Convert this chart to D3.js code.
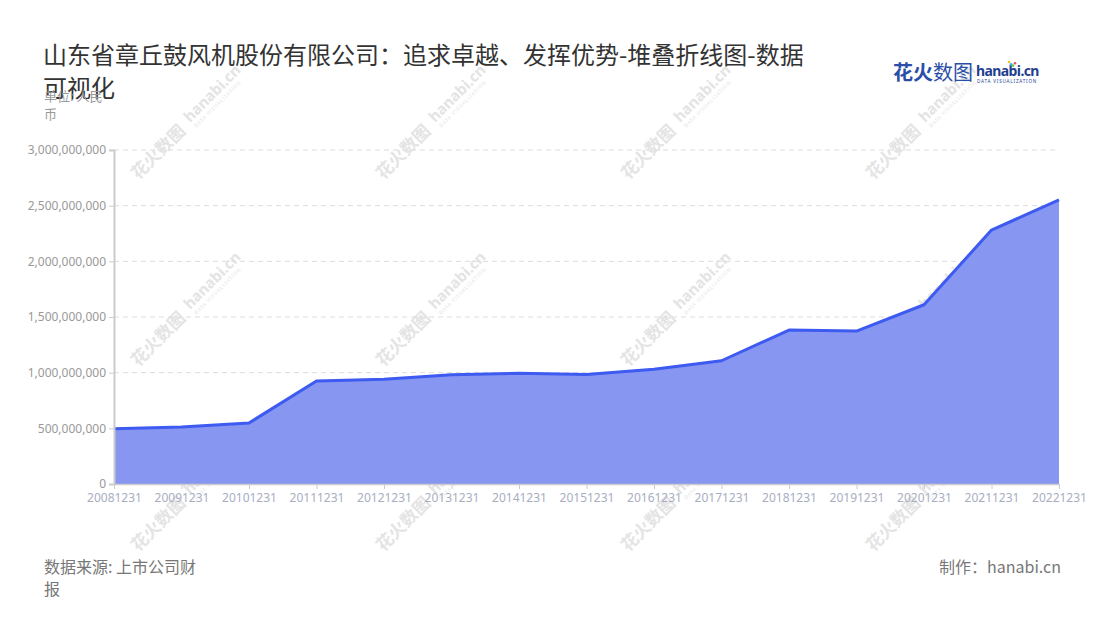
<!DOCTYPE html>
<html><head><meta charset="utf-8">
<script src="https://cdn.jsdelivr.net/npm/d3@7/dist/d3.min.js"></script>
<style>
html,body{margin:0;padding:0;background:#fff;}
svg{display:block;font-family:"Noto Sans","Noto Sans CJK SC",sans-serif;}
</style></head>
<body><svg id="c" width="1100" height="620"></svg>
<script>
const categories = ["20081231","20091231","20101231","20111231","20121231","20131231","20141231","20151231","20161231","20171231","20181231","20191231","20201231","20211231","20221231"];
const values = [497000000,512000000,548000000,925000000,940000000,982000000,995000000,983000000,1030000000,1107000000,1383000000,1374000000,1610000000,2281000000,2551000000];
const yTicks = [0,500000000,1000000000,1500000000,2000000000,2500000000,3000000000];
const titleLines = ["山东省章丘鼓风机股份有限公司：追求卓越、发挥优势-堆叠折线图-数据","可视化"];
const unitLines = ["单位: 人民","币"];
const sourceLines = ["数据来源: 上市公司财","报"];
const credit = "制作：hanabi.cn";

const svg = d3.select("#c");
const M = {l:114, r:1059, t:150, b:484};
const x = d3.scalePoint().domain(categories).range([M.l, M.r]);
const y = d3.scaleLinear().domain([0,3000000000]).range([M.b, M.t]);
const cjk = '"Noto Sans CJK SC","Noto Sans",sans-serif';

// watermarks
const wm = svg.append("g");
const wmCols = [185,430,675,920], wmRows = [125,312,497];
const wmc = "#e4e4e4";
wmRows.forEach(cy => wmCols.forEach(cx => {
  const g = wm.append("g").attr("transform",`translate(${cx},${cy}) rotate(-45)`);
  g.append("text").attr("x",-72).attr("y",6).attr("font-family",cjk).attr("font-weight","bold")
    .attr("font-size",17).attr("fill",wmc).text("花火数图");
  g.append("text").attr("x",5).attr("y",2).attr("font-family",'"Noto Sans",sans-serif').attr("font-weight","bold")
    .attr("font-size",15).attr("fill",wmc).text("hanabi.cn");
  g.append("text").attr("x",6).attr("y",10).attr("font-family",'"Noto Sans",sans-serif')
    .attr("font-size",5).attr("fill",wmc).attr("letter-spacing",0.8).text("DATA VISUALIZATION");
}));

// grid
svg.append("g").selectAll("line").data(yTicks.slice(1)).join("line")
  .attr("x1",M.l).attr("x2",M.r).attr("y1",d=>y(d)).attr("y2",d=>y(d))
  .attr("stroke","#dcdcdc").attr("stroke-dasharray","5,4");

// area + line
const area = d3.area().x((d,i)=>x(categories[i])).y0(y(0)).y1(d=>y(d));
const line = d3.line().x((d,i)=>x(categories[i])).y(d=>y(d));
svg.append("path").datum(values).attr("d",area).attr("fill","#8796f0");
svg.append("path").datum(values).attr("d",line).attr("fill","none").attr("stroke","#3d5af1").attr("stroke-width",3).attr("stroke-linejoin","round");

// y axis
const yAxis = d3.axisLeft(y).tickValues(yTicks).tickSize(5).tickPadding(3).tickFormat(d3.format(","));
const ya = svg.append("g").attr("transform",`translate(${M.l},0)`).call(yAxis);
ya.select(".domain").attr("stroke","#cccccc").attr("stroke-width",2);
ya.selectAll(".tick line").attr("stroke","#cccccc");
ya.selectAll(".tick text").attr("fill","#999999").attr("font-size",12).attr("font-family",'"Noto Sans",sans-serif');

// x axis
const xAxis = d3.axisBottom(x).tickSize(5).tickPadding(4).tickSizeOuter(0);
const xa = svg.append("g").attr("transform",`translate(0,${M.b})`).call(xAxis);
xa.select(".domain").attr("stroke","#cccccc").attr("stroke-width",1.5);
xa.selectAll(".tick line").attr("stroke","#cccccc");
xa.selectAll(".tick text").attr("fill","#a8aebf").attr("font-size",12).attr("font-family",'"Noto Sans",sans-serif');

// title
svg.append("g").selectAll("text").data(titleLines).join("text")
  .attr("x",43).attr("y",(d,i)=>64+i*33).attr("font-family",cjk).attr("font-size",24).attr("fill","#333333").text(d=>d);
svg.append("g").selectAll("text").data(unitLines).join("text")
  .attr("x",44).attr("y",(d,i)=>101+i*18).attr("font-family",cjk).attr("font-size",13).attr("fill","#999999").text(d=>d);

// logo
const logo = svg.append("g");
logo.append("text").attr("x",893).attr("y",80).attr("font-family",cjk).attr("font-weight","bold").attr("font-size",20).attr("fill","#2b4fa8").text("花火");
logo.append("text").attr("x",933).attr("y",80).attr("font-family",cjk).attr("font-size",20).attr("fill","#2b4fa8").text("数图");
logo.append("text").attr("x",976).attr("y",76).attr("font-family",'"Noto Sans",sans-serif').attr("font-weight","bold").attr("font-size",14).attr("fill","#1f3f8f").attr("letter-spacing",-0.6).text("hanabi.cn");
logo.append("text").attr("x",977).attr("y",83).attr("font-family",'"Noto Sans",sans-serif').attr("font-size",4.6).attr("fill","#1f3f8f").attr("letter-spacing",0.8).text("DATA VISUALIZATION");
const sp = [["#f0c419",-3],["#e94e77",3],["#34b1e6",-1],["#7ac143",1]];
sp.forEach((s,i)=>logo.append("circle").attr("cx",1012+s[1]).attr("cy",62+i*1.2).attr("r",1.3).attr("fill",s[0]));

// footer
svg.append("g").selectAll("text").data(sourceLines).join("text")
  .attr("x",44).attr("y",(d,i)=>573+i*22).attr("font-family",cjk).attr("font-size",16).attr("fill","#777777").text(d=>d);
svg.append("text").attr("x",1061).attr("y",573).attr("text-anchor","end").attr("font-family",cjk).attr("font-size",16).attr("fill","#777777").text(credit);
</script></body></html>
